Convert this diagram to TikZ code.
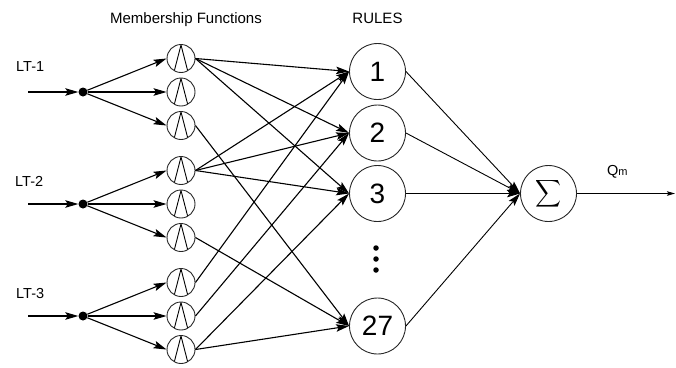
\documentclass[tikz,border=0pt]{standalone}
\usepackage{fontspec}
\setmainfont{Liberation Sans}
\usetikzlibrary{arrows.meta}
\begin{document}
\begin{tikzpicture}[x=1pt,y=-1pt,
  tip/.tip={Stealth[length=13pt,width=7.5pt,inset=2.5pt]},
  wire/.style={line width=1.1pt,black,-tip},
  thinwire/.style={line width=0.9pt,black,-tip},
  mf/.style={circle,draw=black!85,line width=0.9pt,minimum size=28pt,inner sep=0pt,
    path picture={\draw[line width=0.9pt,black] (path picture bounding box.center)
      ++(-7,13.5) -- ++(7,-27) -- ++(7,27);}},
  rulenode/.style={circle,draw=black!85,line width=0.9pt,minimum size=56pt,inner sep=0pt,
    font=\fontsize{28}{28}\selectfont},
  junction/.style={circle,fill=black,minimum size=9pt,inner sep=0pt},
  ellipsisdot/.style={circle,fill=black,minimum size=5.5pt,inner sep=0pt},
  lbl/.style={font=\fontsize{14.5}{15}\selectfont,inner sep=0pt},
  head/.style={font=\fontsize{15}{16}\selectfont,inner sep=0pt,anchor=base}]
\useasboundingbox (0,0) rectangle (676,367);

% column headings
\node[head] (hmf) at (186,23) {Membership Functions};
\node[head] (hrules) at (377.5,23) {RULES};

% inputs, branching points and membership functions
\node[lbl,anchor=base west] (lt1) at (16,71.7) {LT-1};
\node[lbl,anchor=base west] (lt2) at (15,186.5) {LT-2};
\node[lbl,anchor=base west] (lt3) at (16,298.3) {LT-3};
\foreach \g/\yo in {1/0,2/112,3/224} {
  \coordinate (in\g) at (28,92+\yo);
  \node[junction] (j\g) at (83,92+\yo) {};
  \node[mf] (m\g1) at (181,58.5+\yo) {};
  \node[mf] (m\g2) at (181,92+\yo) {};
  \node[mf] (m\g3) at (181,125.5+\yo) {};
  \draw[wire] (in\g) -- (j\g);
  \foreach \k in {1,2,3} \draw[wire] (j\g) -- (m\g\k.west);
}

% rule layer
\node[rulenode] (r1) at (377.5,71.5) {1};
\node[rulenode] (r2) at (377.5,133) {2};
\node[rulenode] (r3) at (377.5,193.5) {3};
\node[rulenode] (r27) at (377.5,326) {27};
\node[ellipsisdot] (e1) at (376,248) {};
\node[ellipsisdot] (e2) at (376,259) {};
\node[ellipsisdot] (e3) at (376,270) {};

% membership functions to rules
\foreach \a/\b in {m11/r1,m11/r2,m11/r3,m21/r1,m21/r2,m21/r3,
                   m31/r1,m32/r2,m33/r3,m33/r27,m13/r27,m23/r27}
  \draw[wire] (\a.east) -- (\b.west);

% summation and output
\node[rulenode] (s) at (548.5,193.5) {\resizebox{26pt}{27pt}{$\displaystyle\sum$}};
\foreach \r in {r1,r2,r3,r27} \draw[thinwire] (\r.east) -- (s.west);
\coordinate (out) at (675,193.5);
\draw[line width=0.8pt,-{Stealth[length=8pt,width=4.5pt,inset=1.5pt]}] (s.east) -- (out);
\node[lbl,anchor=base west] (qm) at (607,175.5) {Q{\fontsize{11}{11}\selectfont m}};
\end{tikzpicture}
\end{document}
